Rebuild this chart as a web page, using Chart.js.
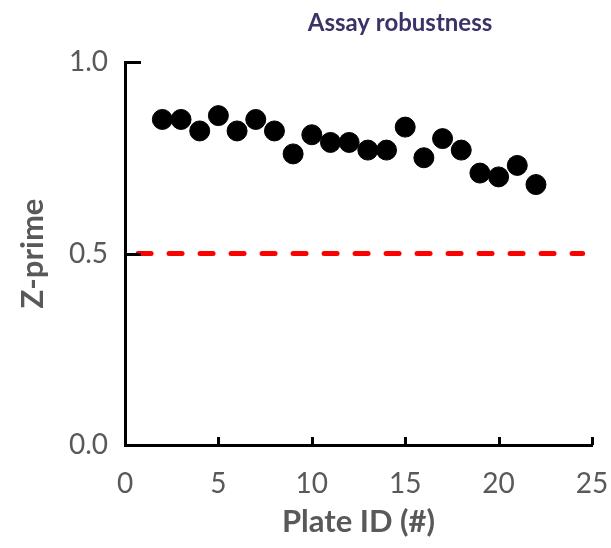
<!DOCTYPE html>
<html>
<head>
<meta charset="utf-8">
<script src="https://cdn.jsdelivr.net/npm/chart.js@4.4.1/dist/chart.umd.min.js"></script>
<style>
  html, body { margin: 0; padding: 0; background: #fff; }
  #wrap { width: 611px; height: 548px; }
</style>
</head>
<body>
<div id="wrap"><canvas id="zChart" width="611" height="548"></canvas></div>
<script>
// Plate IDs and their Z-prime values
const plateIds = [2, 3, 4, 5, 6, 7, 8, 9, 10, 11, 12, 13, 14, 15, 16, 17, 18, 19, 20, 21, 22];
const zPrime = [0.85, 0.85, 0.82, 0.86, 0.82, 0.85, 0.82, 0.76, 0.81, 0.79, 0.79,
                0.77, 0.77, 0.83, 0.75, 0.80, 0.77, 0.71, 0.70, 0.73, 0.68];

// acceptance threshold line
const thresholdX = [0.7, 24.5];
const thresholdY = [0.5, 0.5];

// ticks
const xTicks = [0, 5, 10, 15, 20, 25];
const yTicks = [0.0, 0.5, 1.0];

const FONT = "Lato, 'Open Sans', sans-serif";
const GREY = "#595959";

// axis ticks pointing into the plot, like the original
const inwardTicks = {
  id: "inwardTicks",
  afterDatasetsDraw(chart) {
    const { ctx, chartArea, scales } = chart;
    ctx.save();
    ctx.strokeStyle = "#000";
    ctx.lineWidth = 3;
    xTicks.forEach(v => {
      const px = Math.round(scales.x.getPixelForValue(v)) + 0.5;
      ctx.beginPath();
      ctx.moveTo(px, chartArea.bottom);
      ctx.lineTo(px, chartArea.bottom - 8);
      ctx.stroke();
    });
    yTicks.forEach(v => {
      const py = Math.round(scales.y.getPixelForValue(v)) + 0.5;
      ctx.beginPath();
      ctx.moveTo(chartArea.left, py);
      ctx.lineTo(chartArea.left + 16, py);
      ctx.stroke();
    });
    ctx.restore();
  }
};

// title sits right of the plot centre in the original
const plotTitle = {
  id: "plotTitle",
  afterDraw(chart) {
    const { ctx } = chart;
    ctx.save();
    ctx.font = "bold 24px " + FONT;
    ctx.fillStyle = "#3b3368";
    ctx.textAlign = "center";
    ctx.textBaseline = "middle";
    ctx.fillText("Assay robustness", 400, 23);
    ctx.restore();
  }
};

new Chart(document.getElementById("zChart"), {
  type: "scatter",
  data: {
    datasets: [
      {
        label: "Z-prime",
        data: plateIds.map((p, i) => ({ x: p, y: zPrime[i] })),
        backgroundColor: "#000",
        borderColor: "#000",
        pointRadius: 10,
        pointHoverRadius: 10,
        order: 1
      },
      {
        label: "Threshold",
        type: "line",
        data: thresholdX.map((x, i) => ({ x: x, y: thresholdY[i] })),
        borderColor: "#ff0000",
        borderWidth: 5,
        borderDash: [13, 18],
        borderCapStyle: "round",
        pointRadius: 0,
        fill: false,
        order: 2
      }
    ]
  },
  options: {
    responsive: false,
    animation: false,
    layout: { padding: { top: 62, right: 19, left: 0, bottom: 0 } },
    plugins: {
      legend: { display: false },
      tooltip: { enabled: false },
      title: { display: false }
    },
    scales: {
      x: {
        type: "linear",
        min: 0,
        max: 25,
        afterBuildTicks: s => { s.ticks = xTicks.map(v => ({ value: v })); },
        afterFit: s => { s.height = 103; s.paddingLeft = 0; s.paddingRight = 0; },
        ticks: {
          color: GREY,
          font: { family: FONT, size: 28 },
          padding: 22,
          callback: v => String(v)
        },
        grid: { display: true, drawOnChartArea: false, drawTicks: false },
        border: { color: "#000", width: 3 },
        title: {
          display: true,
          text: "Plate ID (#)",
          color: GREY,
          font: { family: FONT, size: 31, weight: "bold" },
          padding: { top: 0, bottom: 7 }
        }
      },
      y: {
        type: "linear",
        min: 0,
        max: 1,
        afterBuildTicks: s => { s.ticks = yTicks.map(v => ({ value: v })); },
        afterFit: s => { s.width = 125; s.paddingTop = 0; s.paddingBottom = 0; },
        ticks: {
          color: GREY,
          font: { family: FONT, size: 28 },
          padding: 17,
          callback: v => v.toFixed(1)
        },
        grid: { display: true, drawOnChartArea: false, drawTicks: false },
        border: { color: "#000", width: 3 },
        title: {
          display: true,
          text: "Z-prime",
          color: GREY,
          font: { family: FONT, size: 31, weight: "bold" },
          padding: { top: 14, bottom: 0 }
        }
      }
    }
  },
  plugins: [inwardTicks, plotTitle]
});
</script>
</body>
</html>
